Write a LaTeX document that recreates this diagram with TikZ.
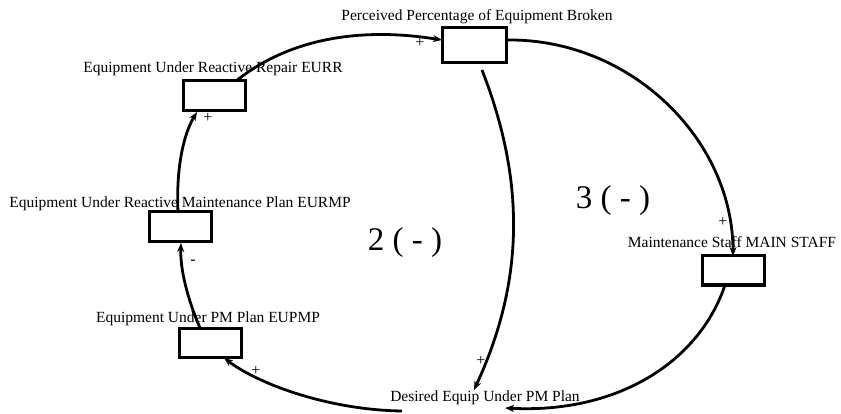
\documentclass[tikz,border=0pt]{standalone}
\usepackage{fontspec}
\setmainfont{Liberation Serif}
\usetikzlibrary{arrows.meta}
\begin{document}
\begin{tikzpicture}[x=1pt,y=-1pt,
  box/.style={draw,line width=3pt,minimum width=62pt,minimum height=30pt,inner sep=0pt},
  lbl/.style={font=\fontsize{15.5}{17}\selectfont,inner sep=0pt},
  sgn/.style={font=\fontsize{16}{18}\selectfont,inner sep=0pt},
  big/.style={font=\fontsize{33}{36}\selectfont,inner sep=0pt},
  link/.style={line width=2.8pt,-{Stealth[length=9pt,width=7pt]}}]
\useasboundingbox (0,0) rectangle (841,414);
% boxes
\node[box,minimum width=64pt,minimum height=35pt] (ppeb) at (474,45.5) {};
\node[box] (eurr) at (214,96) {};
\node[box] (eurmp) at (180.5,227) {};
\node[box,minimum height=29pt] (eupmp) at (210,342.5) {};
\node[box,minimum height=29pt] (ms) at (733,270.5) {};
% labels
\node[lbl] (lppeb) at (477,17) {Perceived Percentage of Equipment Broken};
\node[lbl] (leurr) at (213,69) {Equipment Under Reactive Repair EURR};
\node[lbl] (leurmp) at (180,204) {Equipment Under Reactive Maintenance Plan EURMP};
\node[lbl] (leupmp) at (208,319) {Equipment Under PM Plan EUPMP};
\node[lbl] (lms) at (732,242) {Maintenance Staff MAIN STAFF};
\node[lbl] (des) at (485,398) {Desired Equip Under PM Plan};
% loop labels
\node[big] (l2) at (405,243) {2 ( - )};
\node[big] (l3) at (613,201) {3 ( - )};
% connector end points
\coordinate (p1s) at (236,81);
\coordinate (p1e) at (442,40);
\coordinate (p2s) at (506,40);
\coordinate (p2e) at (733,256);
\coordinate (p3s) at (482,70);
\coordinate (p3e) at (474,390);
\coordinate (p4s) at (725,285);
\coordinate (p4e) at (505,408);
\coordinate (p5s) at (402,411);
\coordinate (p5e) at (224,358);
\coordinate (p6s) at (200,328);
\coordinate (p6e) at (181,243);
\coordinate (p7s) at (178,212);
\coordinate (p7e) at (197,112);
% connectors
\draw[link] (p1s) .. controls (300,30) and (380,30) .. (p1e);
\draw[link] (p2s) .. controls (631,38) and (733,140) .. (p2e);
\draw[link] (p3s) .. controls (525,180) and (525,280) .. (p3e);
\draw[link] (p4s) .. controls (700,360) and (620,414) .. (p4e);
\draw[link] (p5s) .. controls (330,410) and (260,385) .. (p5e);
\draw[link] (p6s) .. controls (188,300) and (180,270) .. (p6e);
\draw[link] (p7s) .. controls (176,170) and (183,135) .. (p7e);
% signs
\node[sgn] (s1) at (420,43) {+};
\node[sgn] (s2) at (723,222) {+};
\node[sgn] (s3) at (481,361) {+};
\node[sgn] (s5) at (256,371) {+};
\node[sgn] (s6) at (193,262) {-};
\node[sgn] (s7) at (208,118) {+};
\end{tikzpicture}
\end{document}
